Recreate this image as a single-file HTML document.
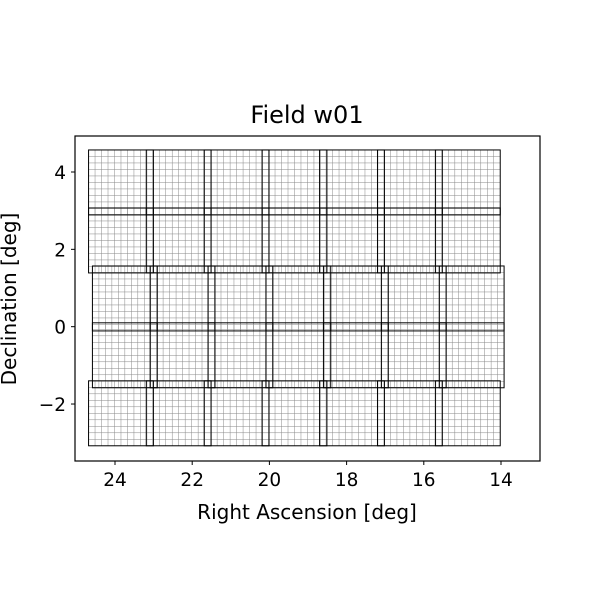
<!DOCTYPE html>
<html><head><meta charset="utf-8"><style>
body{margin:0;background:#fff}
svg text{font-family:"DejaVu Sans","Liberation Sans",sans-serif;fill:#000}
</style></head><body>
<svg id="chart" width="600" height="600" viewBox="0 0 600 600" xmlns="http://www.w3.org/2000/svg">
<text x="307" y="123" font-size="24" text-anchor="middle">Field w01</text>
<g id="tiles"></g>
<rect x="75" y="136" width="465" height="325" fill="none" stroke="#000" stroke-width="1.2"/>
<g id="xt"></g>
<g id="yt"></g>
<text x="307" y="519" font-size="20" text-anchor="middle">Right Ascension [deg]</text>
<text transform="translate(16,299) rotate(-90)" font-size="20" text-anchor="middle">Declination [deg]</text>
</svg>
<script>
const colRA=[23.845,22.35,20.85,19.35,17.86,16.36,14.86];
const rowDec=[3.73,2.23,0.73,-0.74,-2.24];
const rowShift=[0,0,-0.10,-0.10,0];
const tileW=1.68, tileH=1.68;
const xTicks=[24,22,20,18,16,14];
const yTicks=[4,2,0,-2];
const NS="http://www.w3.org/2000/svg";
function X(ra){return 115+(24-ra)*38.6;}
function Y(d){return 172+(4-d)*38.67;}
function mk(t,a,p){const e=document.createElementNS(NS,t);for(const k in a)e.setAttribute(k,a[k]);p.appendChild(e);return e;}
const tg=document.getElementById('tiles');
const fine=mk('g',{},tg);
const bord=mk('g',{},tg);
rowDec.forEach((d,r)=>{colRA.forEach((ra0,c)=>{
  const ra=ra0+rowShift[r];
  const x0=X(ra+tileW/2),x1=X(ra-tileW/2),y0=Y(d+tileH/2),y1=Y(d-tileH/2);
  const n=10;
  for(let i=1;i<n;i++){
    const xx=x0+(x1-x0)*i/n, yy=y0+(y1-y0)*i/n;
    mk('line',{x1:xx,y1:y0,x2:xx,y2:y1,stroke:'#888','stroke-width':0.5},fine);
    mk('line',{x1:x0,y1:yy,x2:x1,y2:yy,stroke:'#888','stroke-width':0.5},fine);
  }
  const rc=mk('rect',{x:x0,y:y0,width:x1-x0,height:y1-y0,fill:'none',stroke:'#000','stroke-width':1},bord);
  
  
});});
const xt=document.getElementById('xt');
xTicks.forEach(v=>{const x=X(v);
  mk('line',{x1:x,y1:461,x2:x,y2:465,stroke:'#000','stroke-width':1},xt);
  const t=mk('text',{x:x,y:486,'font-size':18.5,'text-anchor':'middle'},xt);t.textContent=v;
  
  
});
const yt=document.getElementById('yt');
yTicks.forEach(v=>{const y=Y(v);
  mk('line',{x1:71,y1:y,x2:75,y2:y,stroke:'#000','stroke-width':1},yt);
  const t=mk('text',{x:66,y:y+7,'font-size':18.5,'text-anchor':'end'},yt);t.textContent=(v<0?'\u2212'+(-v):v);
  
  
});
</script>
</body></html>
